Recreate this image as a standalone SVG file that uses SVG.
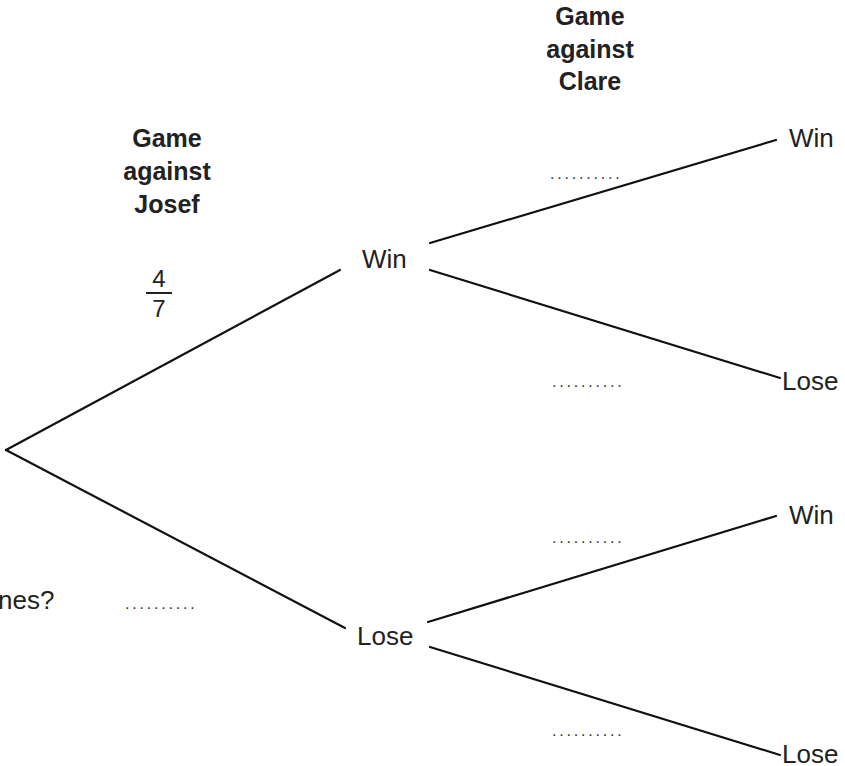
<svg xmlns="http://www.w3.org/2000/svg" width="845" height="766" viewBox="0 0 845 766">
  <style>
    .edge { stroke: #111; stroke-width: 2.2; fill: none; stroke-linecap: round; }
    .lbl { font-family: "Liberation Sans", Arial, sans-serif; font-size: 26px; fill: #222; }
    .head { font-family: "Liberation Sans", Arial, sans-serif; font-size: 25px; font-weight: bold; fill: #222; text-anchor: middle; }
    .dots { font-family: "Liberation Sans", Arial, sans-serif; font-size: 16px; letter-spacing: 2.8px; fill: #333; }
    .frac { font-family: "Liberation Sans", Arial, sans-serif; font-size: 24px; fill: #222; text-anchor: middle; }
  </style>
  <rect width="845" height="766" fill="#ffffff"/>

  <!-- column headings -->
  <g id="head-josef">
    <text class="head" x="167" y="147">Game</text>
    <text class="head" x="167" y="180">against</text>
    <text class="head" x="167" y="213">Josef</text>
  </g>
  <g id="head-clare">
    <text class="head" x="590" y="25">Game</text>
    <text class="head" x="590" y="58">against</text>
    <text class="head" x="590" y="90">Clare</text>
  </g>

  <!-- given probability -->
  <g id="prob-win">
    <text class="frac" x="159" y="287">4</text>
    <line x1="146" y1="293" x2="172" y2="293" stroke="#222" stroke-width="2"/>
    <text class="frac" x="159" y="317">7</text>
  </g>

  <!-- connectors -->
  <g id="edges">
    <line class="edge" x1="6" y1="450" x2="340" y2="270"/>
    <line class="edge" x1="6" y1="450" x2="345" y2="628"/>
    <line class="edge" x1="430" y1="243" x2="776" y2="140"/>
    <line class="edge" x1="430" y1="270" x2="780" y2="378"/>
    <line class="edge" x1="428" y1="622" x2="776" y2="516"/>
    <line class="edge" x1="430" y1="647" x2="780" y2="755"/>
  </g>

  <!-- outcome nodes -->
  <g id="j-win"><text class="lbl" x="362" y="268">Win</text></g>
  <g id="j-lose"><text class="lbl" x="357" y="645">Lose</text></g>
  <g id="c-win-win"><text class="lbl" x="789" y="147">Win</text></g>
  <g id="c-win-lose"><text class="lbl" x="782" y="390">Lose</text></g>
  <g id="c-lose-win"><text class="lbl" x="789" y="524">Win</text></g>
  <g id="c-lose-lose"><text class="lbl" x="782" y="763">Lose</text></g>

  <!-- answer spaces -->
  <g id="blanks">
    <text class="dots" x="550" y="179">..........</text>
    <text class="dots" x="552" y="387">..........</text>
    <text class="dots" x="552" y="543">..........</text>
    <text class="dots" x="552" y="736">..........</text>
    <text class="dots" x="125" y="609">..........</text>
  </g>

  <g id="question"><text class="lbl" x="-2" y="609">nes?</text></g>
</svg>
